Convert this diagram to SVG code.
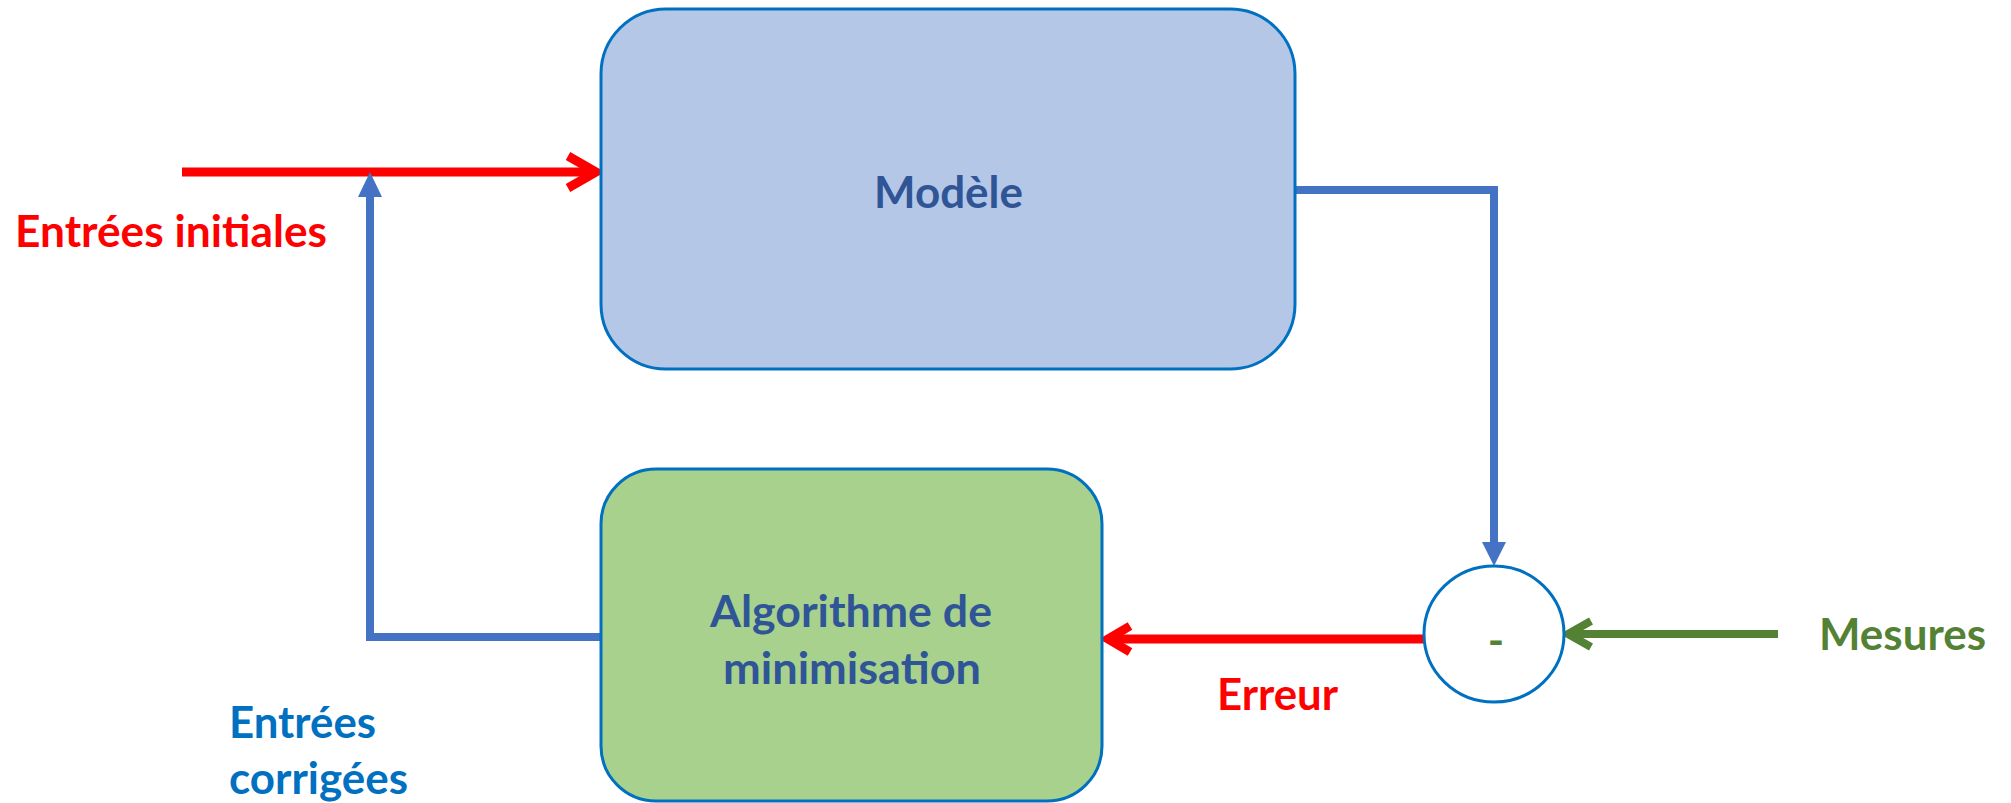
<svg xmlns="http://www.w3.org/2000/svg" width="2011" height="803" viewBox="0 0 2011 803">
<style>
.lbl{font-family:Lato,"Liberation Sans",sans-serif;font-weight:bold;font-size:44px}
.dark{fill:#2F5597}
.red{fill:#FF0000}
.grn{fill:#548235}
.blu{fill:#0070C0}
.box{stroke:#0070C0;stroke-width:3}
.cb{fill:none;stroke:#4472C4;stroke-width:8}
.cr{fill:none;stroke:#FF0000;stroke-width:9}
.cg{fill:none;stroke:#548235;stroke-width:8}
</style>
<rect width="2011" height="803" fill="#FFFFFF"/>
<g id="connectors">
  <path class="cr" d="M182 172 H596"/>
  <polyline class="cr" points="568,156 596,172 568,188"/>
  <path class="cb" d="M607 637 H370 V195"/>
  <polygon fill="#4472C4" points="370,172 358,197 382,197"/>
  <path class="cb" d="M1295 190 H1494 V544"/>
  <polygon fill="#4472C4" points="1494,566 1482,542 1506,542"/>
  <path class="cg" d="M1778 634 H1570"/>
  <polyline class="cg" points="1591,621 1568,634 1591,647"/>
  <path class="cr" d="M1424 639 H1110"/>
  <polyline class="cr" points="1130,626 1108,639 1130,652"/>
</g>
<g id="modele">
  <rect class="box" x="601" y="9" width="694" height="360" rx="65" ry="65" fill="#B4C7E7"/>
  <text class="lbl dark" x="874" y="208" textLength="149" lengthAdjust="spacingAndGlyphs">Modèle</text>
</g>
<g id="algorithme">
  <rect class="box" x="601" y="469" width="501" height="332" rx="55" ry="55" fill="#A9D18E"/>
  <text class="lbl dark" x="710" y="627" textLength="282" lengthAdjust="spacingAndGlyphs">Algorithme de</text>
  <text class="lbl dark" x="723" y="684" textLength="258" lengthAdjust="spacingAndGlyphs">minimisation</text>
</g>
<g id="comparateur">
  <ellipse cx="1494" cy="634" rx="70" ry="68" fill="#FFFFFF" stroke="#0070C0" stroke-width="3"/>
  <text class="lbl grn" x="1496" y="656" text-anchor="middle" font-size="62">-</text>
</g>
<g id="labels">
  <text class="lbl red" x="15" y="247" textLength="312" lengthAdjust="spacingAndGlyphs">Entrées initiales</text>
  <text class="lbl red" x="1217" y="710" textLength="121" lengthAdjust="spacingAndGlyphs">Erreur</text>
  <text class="lbl grn" x="1819" y="650" textLength="167" lengthAdjust="spacingAndGlyphs">Mesures</text>
  <text class="lbl blu" x="229" y="738" textLength="147" lengthAdjust="spacingAndGlyphs">Entrées</text>
  <text class="lbl blu" x="229" y="794" textLength="179" lengthAdjust="spacingAndGlyphs">corrigées</text>
</g>
</svg>
